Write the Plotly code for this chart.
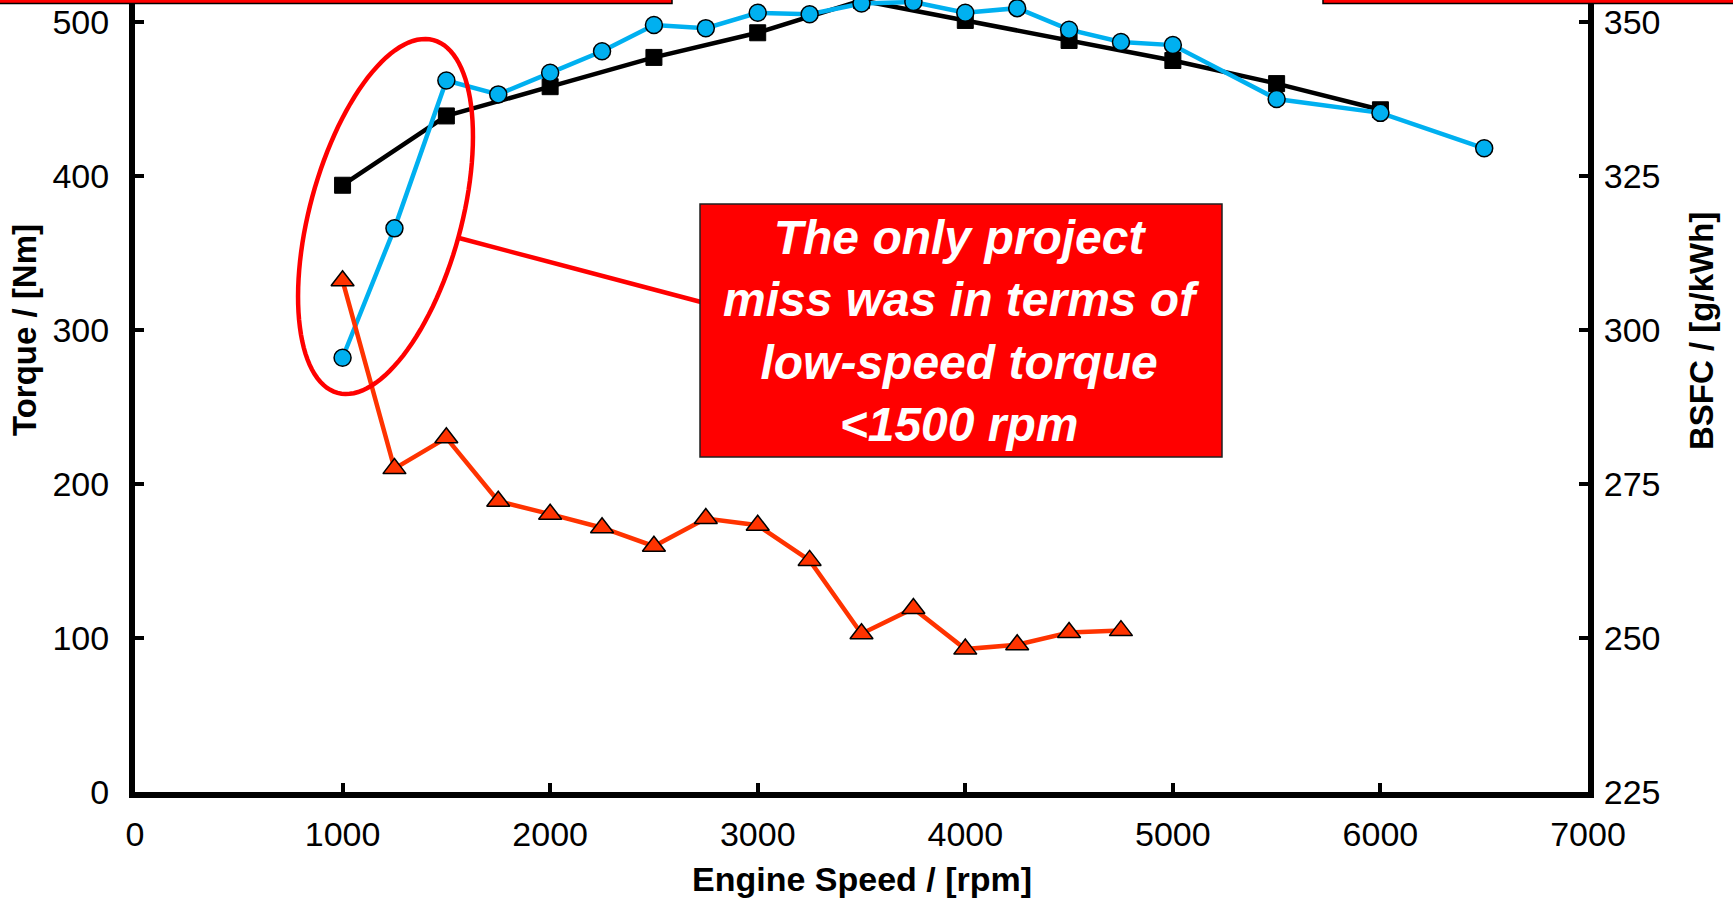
import numpy as np
import plotly.graph_objects as go

# ---------------- data ----------------
speed_target = [1000, 1500, 2000, 2500, 3000, 3500, 4000, 4500, 5000, 5500, 6000]
torque_target = [394, 439, 458, 477, 493, 514, 501, 488, 475, 460, 443]

speed_meas = [1000, 1250, 1500, 1750, 2000, 2250, 2500, 2750, 3000, 3250, 3500,
              3750, 4000, 4250, 4500, 4750, 5000, 5500, 6000, 6500]
torque_meas = [282, 366, 462, 453, 467, 481, 498, 496, 506, 505, 512,
               513, 506, 509, 495, 487, 485, 450, 441, 418]

speed_bsfc = [1000, 1250, 1500, 1750, 2000, 2250, 2500, 2750, 3000, 3250, 3500,
              3750, 4000, 4250, 4500, 4750]
bsfc = [308, 277.5, 282.5, 272.2, 270.1, 267.9, 264.9, 269.4, 268.3, 262.6, 250.7,
        254.8, 248.2, 248.9, 250.9, 251.2]

x_ticks = [0, 1000, 2000, 3000, 4000, 5000, 6000, 7000]
y_ticks = [0, 100, 200, 300, 400, 500]
y2_ticks = [225, 250, 275, 300, 325, 350]

x_title = "Engine Speed / [rpm]"
y_title = "Torque / [Nm]"
y2_title = "BSFC / [g/kWh]"
callout = "The only project<br>miss was in terms of<br>low-speed torque<br><1500 rpm"

# ---------------- layout geometry (pixels) ----------------
W, H = 1733, 898
L, R, T, B = 135, 1588, 0, 792
XR = [0, 7000]
YR = [0, (B - 0) / 1.54]          # ~514
Y2R = [225, 225 + YR[1] / 4]

def px2x(px):
    return XR[0] + (px - L) / (R - L) * (XR[1] - XR[0])

def py2y(py):
    return YR[0] + (B - py) / (B - T) * (YR[1] - YR[0])

def pxp(px):
    return (px - L) / (R - L)

def pyp(py):
    return (B - py) / (B - T)

FONT = "Liberation Sans, Arial, sans-serif"
BLUE = "#00B0F0"
ORANGE = "#FF3300"

fig = go.Figure()

fig.add_trace(go.Scatter(
    x=speed_bsfc, y=bsfc, yaxis="y2", mode="lines+markers",
    line=dict(color=ORANGE, width=4.5),
    marker=dict(symbol="triangle-up", size=20, color=ORANGE,
                line=dict(color="black", width=1.5)),
    showlegend=False))

fig.add_trace(go.Scatter(
    x=speed_target, y=torque_target, mode="lines+markers",
    line=dict(color="black", width=4.5),
    marker=dict(symbol="square", size=16, color="black",
                line=dict(color="black", width=1)),
    showlegend=False))

fig.add_trace(go.Scatter(
    x=speed_meas, y=torque_meas, mode="lines+markers",
    line=dict(color=BLUE, width=4.5),
    marker=dict(symbol="circle", size=17, color=BLUE,
                line=dict(color="black", width=1.5)),
    showlegend=False))

# ---------------- annotation shapes ----------------
shapes = []
cx, cy = 385.5, 216.5
a_ax, b_ax = 182.8, 75.8
th = np.deg2rad(15.2)
u = np.array([np.sin(th), -np.cos(th)])
v = np.array([np.cos(th), np.sin(th)])
pts = []
for t in np.linspace(0, 2 * np.pi, 121):
    p = np.array([cx, cy]) + a_ax * np.cos(t) * u + b_ax * np.sin(t) * v
    pts.append(f"{px2x(p[0]):.3f},{py2y(p[1]):.3f}")
path = "M " + " L ".join(pts) + " Z"
shapes.append(dict(type="path", path=path, xref="x", yref="y",
                   line=dict(color="#FF0000", width=4.5), layer="above"))
shapes.append(dict(type="line", xref="x", yref="y",
                   x0=px2x(459), y0=py2y(238), x1=px2x(701), y1=py2y(302),
                   line=dict(color="#FF0000", width=4.5), layer="above"))
shapes.append(dict(type="rect", xref="x", yref="y",
                   x0=px2x(700), y0=py2y(204), x1=px2x(1222), y1=py2y(457),
                   fillcolor="#FF0000", line=dict(color="#202020", width=1.5),
                   layer="above"))
shapes.append(dict(type="rect", xref="paper", yref="paper",
                   x0=pxp(-5), x1=pxp(672), y0=pyp(3.5), y1=pyp(-40),
                   fillcolor="#FF0000", line=dict(color="black", width=1.5),
                   layer="above"))
shapes.append(dict(type="rect", xref="paper", yref="paper",
                   x0=pxp(1323), x1=pxp(1745), y0=pyp(3.5), y1=pyp(-40),
                   fillcolor="#FF0000", line=dict(color="black", width=1.5),
                   layer="above"))

annotations = [
    dict(text=callout, xref="x", yref="y", x=px2x(961), y=py2y(331),
         xanchor="center", yanchor="middle",
         showarrow=False, align="center",
         font=dict(family=FONT, size=48, color="white", weight="bold", style="italic")),
    dict(text="<b>" + x_title + "</b>", xref="paper", yref="paper",
         x=pxp(862), y=pyp(879), xanchor="center", yanchor="middle", showarrow=False,
         font=dict(family=FONT, size=34, color="black")),
    dict(text="<b>" + y_title + "</b>", xref="paper", yref="paper",
         x=pxp(25), y=pyp(330), xanchor="center", yanchor="middle",
         showarrow=False, textangle=-90,
         font=dict(family=FONT, size=33, color="black")),
    dict(text="<b>" + y2_title + "</b>", xref="paper", yref="paper",
         x=pxp(1701), y=pyp(331), xanchor="center", yanchor="middle",
         showarrow=False, textangle=-90,
         font=dict(family=FONT, size=33, color="black")),
]

axis_common = dict(showgrid=False, zeroline=False, showline=True, linecolor="black",
                   linewidth=6, ticks="inside", ticklen=9, tickwidth=4,
                   tickcolor="black",
                   tickfont=dict(family=FONT, size=34, color="black"))

fig.update_layout(
    width=W, height=H,
    margin=dict(l=L, r=W - R, t=T, b=H - B, pad=0),
    paper_bgcolor="white", plot_bgcolor="white",
    xaxis=dict(range=XR, tickvals=x_ticks, ticklabelstandoff=7, **axis_common),
    yaxis=dict(range=YR, tickvals=y_ticks, ticklabelstandoff=13, **axis_common),
    yaxis2=dict(range=Y2R, tickvals=y2_ticks, overlaying="y", side="right",
                ticklabelstandoff=3, **axis_common),
    shapes=shapes, annotations=annotations,
    showlegend=False,
)

fig.write_html("out.html")
